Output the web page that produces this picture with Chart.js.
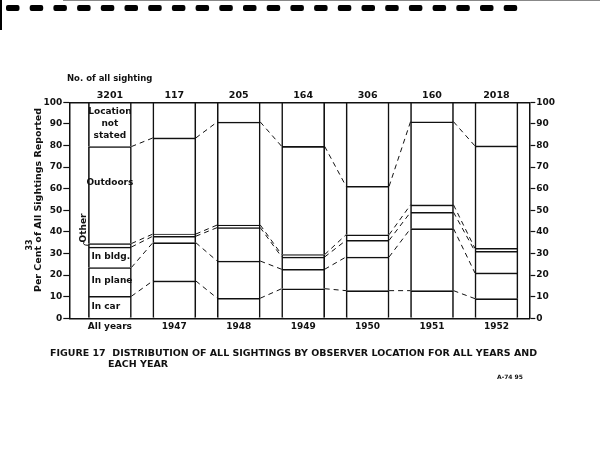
<!DOCTYPE html>
<html>
<head>
<meta charset="utf-8">
<script src="https://cdn.jsdelivr.net/npm/chart.js"></script>
<style>
  html, body { margin: 0; padding: 0; background: #fff; }
  #wrap { width: 600px; height: 466px; }
</style>
</head>
<body>
<div id="wrap"><canvas id="c" width="600" height="466"></canvas></div>
<script>
// values, per cent of sightings in each band (bottom to top)
const categories = ['All years', '1947', '1948', '1949', '1950', '1951', '1952']
const sightings = ['3201', '117', '205', '164', '306', '160', '2018']
const inCar = [10.2, 17.3, 9.3, 13.7, 12.8, 12.8, 9.1]
const inPlane = [13.3, 17.7, 17.2, 9.0, 15.6, 28.7, 11.9]
const inBldg = [9.5, 3.0, 15.5, 5.7, 7.7, 7.6, 10.0]
const other = [1.6, 1.0, 1.2, 1.1, 2.6, 3.4, 1.4]
const outdoors = [44.9, 44.5, 47.7, 50.1, 22.4, 38.5, 47.4]
const notStated = [20.5, 16.5, 9.1, 20.4, 38.9, 9.0, 20.2]

const ink = '#111'
const font = 'DejaVu Sans'

const series = [
  ['In car', inCar], ['In plane', inPlane], ['In bldg.', inBldg],
  ['Other', other], ['Outdoors', outdoors], ['Location not stated', notStated]
]

const xMin = -0.63, xMax = 6.51

const box = {
  id: 'box',
  afterDatasetsDraw(chart) {
    const ctx = chart.ctx
    ctx.save()
    // dashed links between neighbouring bars at every band boundary
    ctx.strokeStyle = ink
    ctx.lineWidth = 1
    ctx.setLineDash([5, 4])
    for (let k = 0; k < series.length - 1; k++) {
      const bars = chart.getDatasetMeta(k).data
      for (let i = 0; i < bars.length - 1; i++) {
        const a = bars[i], b = bars[i + 1]
        ctx.beginPath()
        ctx.moveTo(a.x + a.width / 2, a.y)
        ctx.lineTo(b.x - b.width / 2, b.y)
        ctx.stroke()
      }
    }
    ctx.setLineDash([])

    // labels inside the "All years" bar
    const y = chart.scales.y
    const first = chart.getDatasetMeta(0).data[0]
    const cx = first.x, lx = first.x - first.width / 2 + 3
    ctx.fillStyle = ink
    ctx.font = 'bold 9px ' + font
    ctx.textBaseline = 'middle'
    ctx.textAlign = 'center'
    ctx.fillText('Location', cx, 112)
    ctx.fillText('not', cx, 124)
    ctx.fillText('stated', cx, 136)
    ctx.fillText('Outdoors', cx, 183)
    ctx.textAlign = 'left'
    ctx.fillText('In bldg.', lx, 257)
    ctx.fillText('In plane', lx, 281)
    ctx.fillText('In car', lx, 307)

    // "Other" callout pointing at the thin band
    const oy = y.getPixelForValue(inCar[0] + inPlane[0] + inBldg[0] + other[0] / 2)
    ctx.save()
    ctx.translate(84, 228)
    ctx.rotate(-Math.PI / 2)
    ctx.textAlign = 'center'
    ctx.fillText('Other', 0, 0)
    ctx.restore()
    ctx.lineWidth = 1
    ctx.beginPath()
    ctx.moveTo(84, 242)
    ctx.quadraticCurveTo(82, oy, cx - first.width / 2, oy)
    ctx.stroke()

    // sighting counts above the bars
    ctx.textAlign = 'center'
    ctx.font = 'bold 9.5px ' + font
    chart.getDatasetMeta(0).data.forEach((b, i) => ctx.fillText(sightings[i], b.x, 96))
    ctx.textAlign = 'left'
    ctx.font = 'bold 8.5px ' + font
    ctx.fillText('No. of all sighting', 67, 79)

    // axis title and page mark
    ctx.save()
    ctx.translate(39, 200)
    ctx.rotate(-Math.PI / 2)
    ctx.textAlign = 'center'
    ctx.font = 'bold 9.5px ' + font
    ctx.fillText('Per Cent of All Sightings Reported', 0, 0)
    ctx.font = 'bold 8px ' + font
    ctx.fillText('33', -45, -9)
    ctx.restore()

    // caption
    ctx.font = 'bold 9.5px ' + font
    ctx.textAlign = 'left'
    ctx.fillText('FIGURE 17  DISTRIBUTION OF ALL SIGHTINGS BY OBSERVER LOCATION FOR ALL YEARS AND', 50, 354, 487)
    ctx.fillText('EACH YEAR', 108, 365)
    ctx.font = 'bold 6px ' + font
    ctx.fillText('A-74 95', 497, 377)

    // film edge marks along the top
    ctx.fillStyle = '#000'
    for (let i = 0; i < 22; i++) {
      ctx.beginPath()
      ctx.roundRect(6 + i * 23.7, 5, 13.5, 6, 2)
      ctx.fill()
    }
    ctx.fillRect(0, 0, 2, 30)
    ctx.fillStyle = '#888'
    ctx.fillRect(63, 0, 537, 1)
    ctx.restore()
  }
}

const tickFont = { family: font, size: 9, weight: 'bold' }
const yAxis = (pos, w) => ({
  position: pos, min: 0, max: 100,
  ticks: { stepSize: 10, color: ink, font: tickFont, padding: 1 },
  grid: { drawOnChartArea: false, tickLength: 6, color: ink, tickWidth: 1.2 },
  border: { color: ink, width: 1.5 },
  afterFit: s => { s.width = w }
})

new Chart(document.getElementById('c'), {
  type: 'bar',
  data: {
    datasets: series.map(([label, vals]) => ({
      label,
      data: vals.map((v, i) => ({ x: i, y: v })),
      backgroundColor: '#fff',
      borderColor: ink,
      borderWidth: 1.6,
      barThickness: 43
    }))
  },
  options: {
    responsive: false,
    animation: false,
    devicePixelRatio: 1,
    layout: { padding: 0 },
    plugins: { legend: { display: false }, tooltip: { enabled: false } },
    scales: {
      x: {
        type: 'linear', min: xMin, max: xMax, stacked: true, offset: false,
        afterBuildTicks: s => { s.ticks = categories.map((c, i) => ({ value: i })) },
        ticks: { callback: v => categories[v], color: ink, font: tickFont, padding: 3, maxRotation: 0, autoSkip: false },
        grid: { drawOnChartArea: false, drawTicks: false },
        border: { color: ink, width: 1.5 },
        afterFit: s => { s.height = 466 - 318.3 }
      },
      xTop: {
        type: 'linear', position: 'top', min: xMin, max: xMax, offset: false,
        ticks: { display: false },
        grid: { drawOnChartArea: false, drawTicks: false },
        border: { color: ink, width: 1.5 },
        afterFit: s => { s.height = 102.3 }
      },
      y: { ...yAxis('left', 69.3), stacked: true },
      y2: yAxis('right', 600 - 529.3)
    }
  },
  plugins: [box]
})
</script>
</body>
</html>
